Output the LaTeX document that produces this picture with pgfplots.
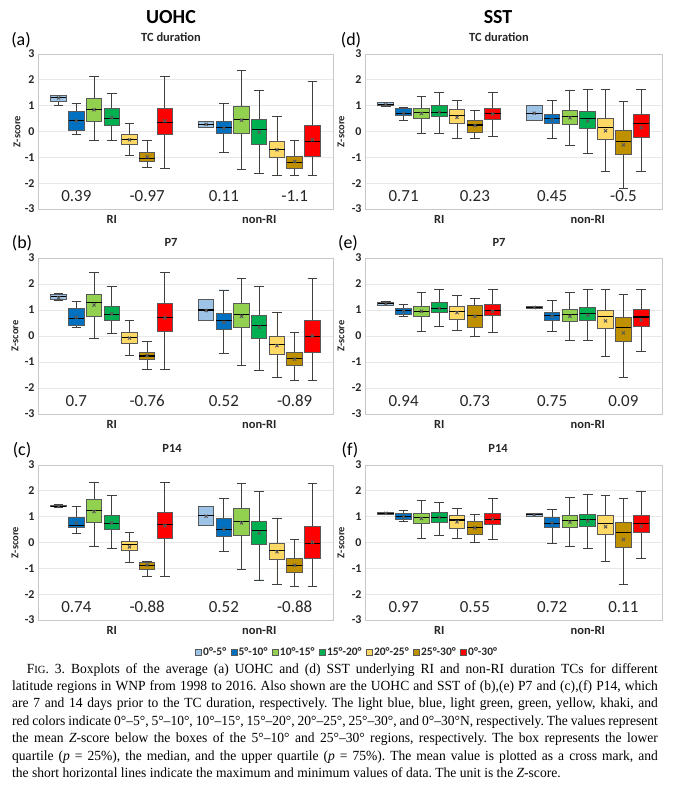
\documentclass[border=0pt]{standalone}
\usepackage{pgfplots}
\pgfplotsset{compat=1.18}
\usepackage{pgfplotstable}
\usepgfplotslibrary{statistics}
\usepackage{fontspec}
\setmainfont{Carlito}
\newfontfamily\capfont{Liberation Serif}

\definecolor{clb}{HTML}{9DC3E6}
\definecolor{cb}{HTML}{0070C0}
\definecolor{clg}{HTML}{92D050}
\definecolor{cg}{HTML}{00B050}
\definecolor{cy}{HTML}{FFD966}
\definecolor{ck}{HTML}{BF9000}
\definecolor{cr}{HTML}{FF0000}
\definecolor{boxgray}{HTML}{595959}
\definecolor{whgray}{HTML}{404040}
\definecolor{framegray}{HTML}{C8C8C8}
\definecolor{gridgray}{HTML}{E8E8E8}
\definecolor{txt}{HTML}{262626}

% columns: draw position, lower whisker, lower quartile, median, upper quartile, upper whisker, mean
\pgfplotstableread{
pos lw lq med uq uw avg
-0.36 1.02 1.16 1.33 1.38 1.40 1.30
-0.24 -0.13 0.04 0.43 0.77 1.07 0.41
-0.12 -0.34 0.37 0.86 1.28 2.13 0.84
0.00 -0.34 0.25 0.52 0.90 1.48 0.54
0.12 -0.93 -0.49 -0.32 -0.12 0.32 -0.32
0.24 -1.39 -1.16 -1.05 -0.81 -0.36 -0.98
0.36 -1.42 -0.12 0.36 0.90 2.13 0.41
0.64 0.16 0.17 0.28 0.37 0.38 0.28
0.76 -0.80 -0.09 0.14 0.37 1.10 0.13
0.88 -1.48 -0.06 0.45 0.97 2.37 0.44
1.00 -1.61 -0.52 0.08 0.48 1.59 -0.03
1.12 -1.72 -1.02 -0.71 -0.37 0.58 -0.71
1.24 -1.72 -1.42 -1.21 -0.98 -0.36 -1.16
1.36 -1.72 -0.97 -0.39 0.25 1.94 -0.32
}\tabA
\pgfplotstableread{
pos lw lq med uq uw avg
-0.36 1.38 1.42 1.51 1.60 1.65 1.47
-0.24 0.33 0.41 0.68 1.06 1.33 0.72
-0.12 -0.08 0.76 1.28 1.60 2.44 1.19
0.00 0.08 0.59 0.84 1.12 1.89 0.85
0.12 -0.76 -0.30 -0.05 0.12 0.61 -0.08
0.24 -1.29 -0.91 -0.77 -0.62 -0.22 -0.75
0.36 -1.29 0.19 0.71 1.24 2.44 0.70
0.64 0.58 0.58 1.00 1.40 1.40 0.98
0.76 -0.68 0.26 0.58 0.85 1.77 0.53
0.88 -1.12 0.32 0.82 1.26 2.22 0.76
1.00 -1.31 -0.08 0.40 0.77 1.92 0.34
1.12 -1.59 -0.70 -0.32 -0.03 0.89 -0.37
1.24 -1.70 -1.15 -0.86 -0.64 0.13 -0.89
1.36 -1.70 -0.64 -0.03 0.59 2.22 0.00
}\tabB
\pgfplotstableread{
pos lw lq med uq uw avg
-0.36 1.36 1.38 1.41 1.44 1.46 1.41
-0.24 0.36 0.58 0.67 0.97 1.41 0.76
-0.12 -0.16 0.78 1.23 1.67 2.33 1.20
0.00 -0.22 0.49 0.74 1.04 1.81 0.76
0.12 -0.79 -0.32 -0.06 0.05 0.39 -0.17
0.24 -1.31 -1.05 -0.89 -0.79 -0.73 -0.87
0.36 -1.31 0.14 0.70 1.15 2.33 0.65
0.64 0.65 0.65 1.04 1.41 1.41 1.02
0.76 -0.35 0.22 0.52 0.92 1.72 0.52
0.88 -1.06 0.26 0.82 1.30 2.27 0.76
1.00 -1.45 -0.09 0.45 0.82 1.99 0.36
1.12 -1.63 -0.66 -0.30 -0.03 0.92 -0.36
1.24 -1.71 -1.15 -0.89 -0.62 0.12 -0.88
1.36 -1.71 -0.62 -0.04 0.62 2.27 0.01
}\tabC
\pgfplotstableread{
pos lw lq med uq uw avg
-0.36 0.98 0.99 1.06 1.12 1.13 1.03
-0.24 0.43 0.61 0.71 0.89 0.94 0.71
-0.12 -0.09 0.50 0.75 0.89 1.37 0.70
0.00 -0.08 0.58 0.75 0.99 1.52 0.75
0.12 -0.26 0.31 0.63 0.85 1.20 0.55
0.24 -0.26 -0.04 0.25 0.44 0.80 0.23
0.36 -0.21 0.45 0.71 0.90 1.52 0.68
0.64 0.44 0.44 0.71 0.99 0.99 0.71
0.76 -0.26 0.32 0.49 0.67 1.20 0.46
0.88 -0.54 0.27 0.58 0.81 1.57 0.53
1.00 -0.85 0.13 0.50 0.77 1.61 0.41
1.12 -1.56 -0.32 0.15 0.52 1.61 0.03
1.24 -2.21 -0.88 -0.37 0.03 1.17 -0.52
1.36 -1.54 -0.22 0.32 0.65 1.61 0.15
}\tabD
\pgfplotstableread{
pos lw lq med uq uw avg
-0.36 1.18 1.19 1.24 1.30 1.31 1.24
-0.24 0.76 0.84 0.97 1.04 1.22 0.95
-0.12 0.18 0.76 0.95 1.15 1.69 0.95
0.00 0.37 0.91 1.06 1.29 1.80 1.06
0.12 0.22 0.63 0.95 1.13 1.56 0.90
0.24 -0.03 0.34 0.79 1.19 1.43 0.76
0.36 0.15 0.77 0.98 1.20 1.80 0.95
0.64 1.05 1.07 1.10 1.13 1.14 1.10
0.76 0.18 0.61 0.79 0.90 1.38 0.76
0.88 -0.17 0.57 0.84 1.02 1.69 0.76
1.00 -0.17 0.58 0.86 1.10 1.79 0.80
1.12 -0.77 0.27 0.75 1.00 1.80 0.58
1.24 -1.61 -0.22 0.32 0.73 1.60 0.12
1.36 -0.59 0.37 0.73 1.02 1.80 0.61
}\tabE
\pgfplotstableread{
pos lw lq med uq uw avg
-0.36 1.08 1.09 1.13 1.17 1.18 1.13
-0.24 0.82 0.89 1.00 1.14 1.24 1.00
-0.12 0.17 0.74 0.98 1.13 1.62 0.93
0.00 0.27 0.79 0.97 1.18 1.54 0.97
0.12 0.14 0.54 0.87 1.04 1.32 0.80
0.24 0.00 0.31 0.57 0.83 1.09 0.57
0.36 0.10 0.71 0.89 1.11 1.72 0.91
0.64 1.00 1.00 1.08 1.14 1.14 1.07
0.76 -0.04 0.57 0.74 0.97 1.28 0.75
0.88 -0.16 0.57 0.84 1.05 1.75 0.79
1.00 -0.22 0.62 0.88 1.10 1.85 0.83
1.12 -0.74 0.30 0.74 1.04 1.83 0.61
1.24 -1.63 -0.21 0.38 0.76 1.72 0.12
1.36 -0.63 0.38 0.75 1.04 1.96 0.62
}\tabF

\pgfplotsset{
  boxst/.style={forget plot, solid, draw=boxgray, line width=1pt,
    boxplot/draw direction=y,
    boxplot/box extend=0.105, boxplot/whisker extend=0.065,
    boxplot/every median/.style={draw=black, line width=1.1pt},
    boxplot/every whisker/.style={draw=whgray, line width=0.9pt},
    boxplot/every average/.style={/tikz/color=black, /tikz/mark=x, /tikz/mark size=2.2pt, /tikz/draw=black, /tikz/line width=1pt,
      /tikz/every mark/.append style={draw=black, solid, line width=1pt}}},
  panel/.style={scale only axis, height=155bp, anchor=south west,
    xmin=-0.5, xmax=1.5, ymin=-3, ymax=3,
    xtick={0,1}, xticklabels={RI,non-RI},
    ytick={-3,-2,-1,0,1,2,3}, yticklabels={-3,-2,-1,0,1,2,3},
    major tick length=0pt,
    axis line style={draw=framegray, line width=0.9pt},
    ymajorgrids, grid style={draw=gridgray, line width=0.7pt},
    yticklabel style={font=\bfseries\fontsize{12}{12}\selectfont, text=txt},
    xticklabel style={font=\bfseries\fontsize{12.5}{12}\selectfont, text=txt, yshift=-3bp},
    ylabel={Z-score}, ylabel style={font=\bfseries\fontsize{10.5}{10}\selectfont, text=txt, anchor=center, rotate=0},
    clip=false},
  legsq/.style={legend image code/.code={\draw[##1, draw=boxgray, line width=0.5pt] (0bp,-3bp) rectangle (6bp,3bp);}},
}
\tikzset{numst/.style={font=\fontsize{17}{17}\selectfont, text=txt}}

\newcommand{\drawbox}[3]{%
  \pgfplotstablegetelem{#2}{pos}\of#1\edef\bpos{\pgfplotsretval}%
  \pgfplotstablegetelem{#2}{lw}\of#1\edef\blw{\pgfplotsretval}%
  \pgfplotstablegetelem{#2}{lq}\of#1\edef\blq{\pgfplotsretval}%
  \pgfplotstablegetelem{#2}{med}\of#1\edef\bmed{\pgfplotsretval}%
  \pgfplotstablegetelem{#2}{uq}\of#1\edef\buq{\pgfplotsretval}%
  \pgfplotstablegetelem{#2}{uw}\of#1\edef\buw{\pgfplotsretval}%
  \pgfplotstablegetelem{#2}{avg}\of#1\edef\bavg{\pgfplotsretval}%
  \edef\doplot{\noexpand\addplot[boxst, fill=#3, boxplot prepared={draw position=\bpos, lower whisker=\blw, lower quartile=\blq, median=\bmed, upper quartile=\buq, upper whisker=\buw, average=\bavg}] coordinates {};}%
  \doplot
}
\newcommand{\panelboxes}[1]{%
  \drawbox{#1}{0}{clb}\drawbox{#1}{1}{cb}\drawbox{#1}{2}{clg}\drawbox{#1}{3}{cg}%
  \drawbox{#1}{4}{cy}\drawbox{#1}{5}{ck}\drawbox{#1}{6}{cr}%
  \drawbox{#1}{7}{clb}\drawbox{#1}{8}{cb}\drawbox{#1}{9}{clg}\drawbox{#1}{10}{cg}%
  \drawbox{#1}{11}{cy}\drawbox{#1}{12}{ck}\drawbox{#1}{13}{cr}%
}
\newcommand{\nums}[4]{%
  \node[numst] at (axis cs:-0.24,-2.5) {#1};
  \node[numst] at (axis cs:0.24,-2.5) {#2};
  \node[numst] at (axis cs:0.76,-2.5) {#3};
  \node[numst] at (axis cs:1.24,-2.5) {#4};
}

\begin{document}
\begin{tikzpicture}
\useasboundingbox (0bp,0bp) rectangle (673bp,-790bp);

% column titles and panel labels
\node[font=\bfseries\fontsize{20}{20}\selectfont, text=black] at (171bp,-17bp) {UOHC};
\node[font=\bfseries\fontsize{20}{20}\selectfont, text=black] at (498bp,-17bp) {SST};
\tikzset{sub/.style={font=\bfseries\fontsize{12.5}{12}\selectfont, text=txt}, pl/.style={font=\fontsize{18}{18}\selectfont, text=black}}
\node[sub] at (171bp,-37bp) {TC duration};
\node[sub] at (499bp,-37bp) {TC duration};
\node[pl] at (21bp,-40bp) {(a)};
\node[pl] at (351bp,-40bp) {(d)};
\node[sub] at (171bp,-242bp) {P7};
\node[sub] at (499bp,-242bp) {P7};
\node[pl] at (22bp,-243bp) {(b)};
\node[pl] at (348bp,-243bp) {(e)};
\node[sub] at (172bp,-448bp) {P14};
\node[sub] at (498bp,-448bp) {P14};
\node[pl] at (22bp,-450bp) {(c)};
\node[pl] at (350bp,-450bp) {(f)};

% (a)
\begin{axis}[panel, at={(38bp,-209bp)}, width=295bp, ylabel style={at={(axis description cs:-0.071,0.5)}}]
\panelboxes{\tabA}
\nums{0.39}{-0.97}{0.11}{-1.1}
\end{axis}
% (d)
\begin{axis}[panel, at={(365bp,-209bp)}, width=297bp, ylabel style={at={(axis description cs:-0.081,0.5)}}]
\panelboxes{\tabD}
\nums{0.71}{0.23}{0.45}{-0.5}
\end{axis}
% (b)
\begin{axis}[panel, at={(38bp,-414bp)}, width=295bp, height=156bp, ylabel style={at={(axis description cs:-0.078,0.5)}}]
\panelboxes{\tabB}
\nums{0.7}{-0.76}{0.52}{-0.89}
\end{axis}
% (e)
\begin{axis}[panel, at={(365bp,-414bp)}, width=297bp, height=156bp, ylabel style={at={(axis description cs:-0.081,0.5)}}]
\panelboxes{\tabE}
\nums{0.94}{0.73}{0.75}{0.09}
\end{axis}
% (c)
\begin{axis}[panel, at={(38bp,-620bp)}, width=295bp, ylabel style={at={(axis description cs:-0.078,0.5)}},
  legend columns=7,
  legend style={at={(axis description cs:1.047,-0.21)}, anchor=center, draw=none, fill=none,
    font=\bfseries\fontsize{11.5}{12}\selectfont, text=txt,
    nodes={inner xsep=1.5bp, inner ysep=1bp},
    /tikz/every even column/.append style={column sep=3bp}}]
\panelboxes{\tabC}
\nums{0.74}{-0.88}{0.52}{-0.88}
\addlegendimage{legsq, fill=clb}\addlegendentry{0°-5°}
\addlegendimage{legsq, fill=cb}\addlegendentry{5°-10°}
\addlegendimage{legsq, fill=clg}\addlegendentry{10°-15°}
\addlegendimage{legsq, fill=cg}\addlegendentry{15°-20°}
\addlegendimage{legsq, fill=cy}\addlegendentry{20°-25°}
\addlegendimage{legsq, fill=ck}\addlegendentry{25°-30°}
\addlegendimage{legsq, fill=cr}\addlegendentry{0°-30°}
\end{axis}
% (f)
\begin{axis}[panel, at={(365bp,-620bp)}, width=297bp, ylabel style={at={(axis description cs:-0.081,0.5)}}]
\panelboxes{\tabF}
\nums{0.97}{0.55}{0.72}{0.11}
\end{axis}

% caption
\node[anchor=north west, inner sep=0pt, text width=665bp, align=justify, xscale=0.971, transform shape,
  text=black] at (12bp,-663bp) {\capfont\fontsize{14}{17.5}\selectfont\frenchspacing
\hspace*{15bp}F{\fontsize{11}{17.5}\selectfont IG}. 3. Boxplots of the average (a) UOHC and (d) SST underlying RI and non-RI duration TCs for different\linebreak
latitude regions in WNP from 1998 to 2016. Also shown are the UOHC and SST of (b),(e) P7 and (c),(f) P14, which\linebreak
are 7 and 14 days prior to the TC duration, respectively. The light blue, blue, light green, green, yellow, khaki, and\linebreak
red colors indicate 0°–5°, 5°–10°, 10°–15°, 15°–20°, 20°–25°, 25°–30°, and 0°–30°N, respectively. The values represent\linebreak
the mean \textit{Z}-score below the boxes of the 5°–10° and 25°–30° regions, respectively. The box represents the lower\linebreak
quartile (\textit{p} = 25\%), the median, and the upper quartile (\textit{p} = 75\%). The mean value is plotted as a cross mark, and\linebreak
the short horizontal lines indicate the maximum and minimum values of data. The unit is the \textit{Z}-score.\par};
\end{tikzpicture}
\end{document}
